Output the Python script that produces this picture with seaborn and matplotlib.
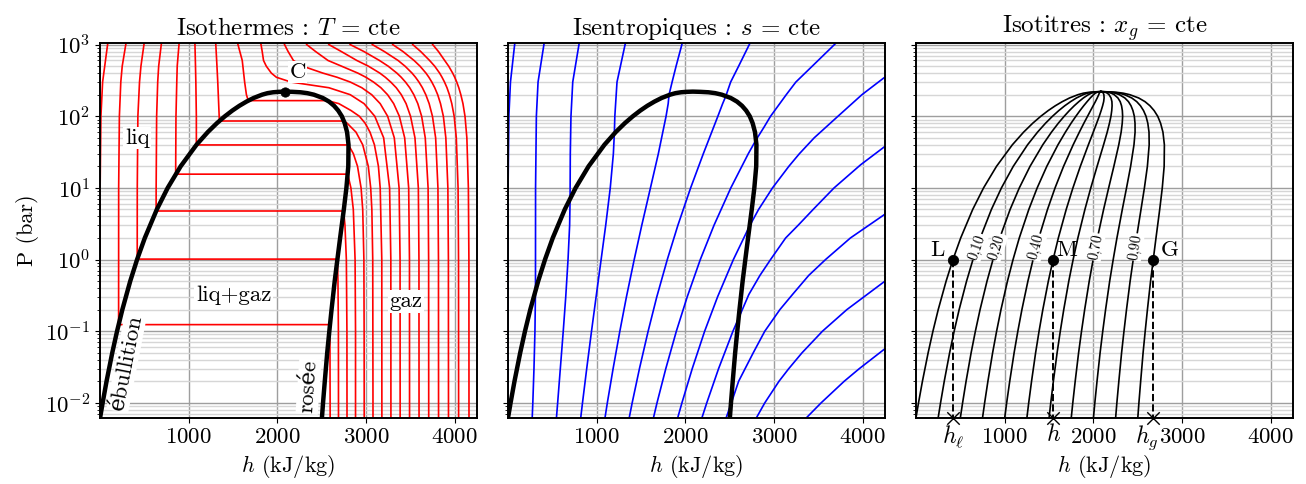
"""
Diagramme (P, h) de l'eau : isothermes, isentropiques, isotitres.
"""

import numpy as np
import pandas as pd
import matplotlib
matplotlib.use("Agg")
import matplotlib.pyplot as plt
import matplotlib.transforms as mtransforms
import seaborn as sns

# ---------------------------------------------------------------------------
# Courbe de saturation (P en bar, h en kJ/kg)
# ---------------------------------------------------------------------------
P_SAT = [0.00611, 0.01, 0.02, 0.05, 0.1, 0.2, 0.5, 1, 2, 5, 10, 20, 40, 60,
         80, 100, 120, 140, 160, 180, 200, 210, 216, 219, 220.64]
H_LIQ = [0, 29.3, 73.4, 137.8, 191.8, 251.4, 340.5, 417.5, 504.7, 640.1,
         762.6, 908.5, 1087.4, 1213.9, 1317.1, 1408.0, 1491.3, 1571.0,
         1650.5, 1732.0, 1827.1, 1888, 1950, 2010, 2084]
H_VAP = [2501, 2513.7, 2533.5, 2560.8, 2584.6, 2609.7, 2645.2, 2675.4,
         2706.2, 2748.1, 2777.1, 2798.3, 2800.8, 2784.6, 2758.0, 2725.5,
         2685.0, 2638.1, 2582.0, 2510.6, 2410.4, 2336, 2260, 2170, 2084]
P_CRIT, H_CRIT = 220.64, 2084.3

# ---------------------------------------------------------------------------
# Isothermes sous-critiques : chemin (P, h) du haut vers le bas
# ---------------------------------------------------------------------------
ISO_T_SUB = {
    0: ([1200, 1000, 300, 100, 10, 0.00611],
        [100, 85, 29, 10, 1, 0]),
    50: ([1200, 1000, 500, 300, 100, 10, 0.1235, 0.1235, 0.00611],
         [305, 290, 250, 234, 218, 210, 209.3, 2591.3, 2594]),
    100: ([1200, 1000, 500, 300, 100, 10, 1.014, 1.014, 0.5, 0.1, 0.00611],
          [508, 495, 461, 445, 426.5, 419.7, 419.1, 2675.6, 2682, 2687, 2688]),
    150: ([1200, 1000, 500, 300, 100, 10, 4.76, 4.76, 3, 1, 0.1, 0.00611],
          [700, 690, 661, 650, 638, 632.5, 632.2, 2745.9, 2761, 2776.6, 2783,
           2784]),
    200: ([1200, 1000, 500, 300, 100, 15.55, 15.55, 10, 5, 1, 0.1, 0.00611],
          [897, 890, 870, 865, 856, 852.3, 2792, 2827.9, 2855, 2875, 2880,
           2880]),
    250: ([1200, 1000, 500, 300, 100, 39.76, 39.76, 30, 20, 10, 5, 1, 0.1,
           0.00611],
          [1068, 1070, 1076, 1080, 1085.6, 1085.8, 2800.9, 2855.8, 2902.5,
           2942.6, 2961, 2974.3, 2977, 2978]),
    300: ([1200, 1000, 500, 300, 100, 85.8, 85.8, 80, 60, 40, 20, 10, 5, 1,
           0.00611],
          [1300, 1305, 1318, 1327, 1343, 1344.8, 2749, 2785, 2885, 2961, 3024,
           3051, 3064, 3074, 3077]),
    350: ([1200, 1000, 600, 300, 200, 165.2, 165.2, 150, 120, 100, 80, 60, 40,
           20, 10, 1, 0.00611],
          [1540, 1555, 1603, 1630, 1650, 1671, 2563.9, 2692, 2830, 2923, 2988,
           3043, 3093, 3138, 3158, 3176, 3177]),
}

# Isothermes supercritiques : h (kJ/kg) sur une grille de pressions commune
P_SUPER = [1200, 1000, 800, 600, 500, 400, 350, 300, 250, 200, 150, 100, 50,
           10, 1, 0.00611]
ISO_T_SUPER = {
    400: [1790, 1815, 1828, 1843, 1874, 1931, 1988, 2152, 2580, 2820, 2976,
          3097, 3197, 3264, 3278, 3279],
    450: [2060, 2080, 2120, 2180, 2285, 2512, 2672, 2821, 2951, 3062, 3158,
          3242, 3317, 3371, 3382, 3383],
    500: [2300, 2330, 2430, 2570, 2722, 2906, 2997, 3083, 3166, 3241, 3310,
          3374, 3434, 3479, 3488, 3489],
    550: [2550, 2580, 2720, 2895, 3025, 3154, 3216, 3277, 3339, 3396, 3450,
          3500, 3550, 3588, 3595, 3596],
    600: [2790, 2820, 2975, 3150, 3248, 3346, 3395, 3443, 3491, 3537, 3582,
          3625, 3666, 3698, 3704, 3705],
    650: [3040, 3070, 3205, 3360, 3438, 3517, 3556, 3595, 3634, 3672, 3710,
          3747, 3783, 3809, 3815, 3816],
    700: [3270, 3300, 3415, 3540, 3607, 3674, 3707, 3740, 3773, 3806, 3838,
          3870, 3898, 3921, 3927, 3928],
    750: [3500, 3525, 3615, 3715, 3772, 3828, 3855, 3883, 3911, 3938, 3965,
          3992, 4016, 4036, 4041, 4042],
    800: [3720, 3750, 3815, 3885, 3930, 3975, 3998, 4021, 4044, 4067, 4091,
          4114, 4135, 4152, 4158, 4159],
}

# ---------------------------------------------------------------------------
# Isentropiques s = 0 ... 11 kJ/(kg.K) : (P, h) du bas vers le haut
# ---------------------------------------------------------------------------
ISO_S = {
    0: ([0.00611, 10, 100, 300, 1000, 1200], [0, 1, 10, 28, 75, 88]),
    1: ([0.00611, 0.01, 0.03, 0.1, 0.37, 10, 100, 300, 1000, 1200],
        [273, 280, 293, 304, 310, 311, 320, 339, 405, 420]),
    2: ([0.00611, 0.01, 0.03, 0.1, 0.3, 1, 3, 7.1, 30, 100, 300, 1000, 1200],
        [546, 560, 590, 623, 651, 677, 695, 700, 702.5, 710, 730, 800, 815]),
    3: ([0.00611, 0.01, 0.03, 0.1, 0.3, 1, 3, 10, 30, 57.5, 100, 300, 1000,
         1200],
        [819.5, 840, 887.5, 941.7, 993, 1050, 1101.5, 1153, 1188, 1199,
         1204.5, 1229, 1320, 1340]),
    4: ([0.00611, 0.01, 0.03, 0.1, 0.3, 1, 3, 10, 30, 100, 150, 198, 300, 500,
         1000, 1200],
        [1093, 1120, 1185, 1261, 1335, 1423, 1508, 1606, 1695, 1782, 1806,
         1815, 1850, 1895, 1960, 1975]),
    5: ([0.00611, 0.01, 0.03, 0.1, 0.3, 1, 3, 10, 30, 100, 150, 190, 300, 500,
         1000, 1200],
        [1366, 1400, 1482, 1580, 1677, 1796, 1915, 2059, 2202, 2366, 2420,
         2455, 2510, 2600, 2720, 2750]),
    6: ([0.00611, 0.01, 0.03, 0.1, 0.3, 1, 3, 10, 30, 46.9, 70, 100, 200, 300,
         500, 1000, 1200],
        [1639, 1680, 1779, 1898, 2020, 2168, 2322, 2512, 2709, 2797, 2885,
         2960, 3137, 3245, 3430, 3680, 3740]),
    7: ([0.00611, 0.01, 0.03, 0.1, 0.3, 1, 2.95, 5, 10, 20, 30, 50, 100, 200,
         342, 600],
        [1912, 1961, 2077, 2217, 2362, 2541, 2724, 2825, 2982, 3166, 3285,
         3452, 3720, 3990, 4236, 4600]),
    8: ([0.00611, 0.01, 0.03, 0.1, 0.15, 0.325, 0.6, 1, 2, 3, 5, 10, 21, 38,
         60],
        [2185, 2241, 2374, 2536, 2598, 2715, 2840, 2960, 3130, 3270, 3440,
         3676, 3975, 4250, 4470]),
    9: ([0.00611, 0.0095, 0.02, 0.05, 0.1, 0.2, 0.325, 0.6, 1, 2, 4.3, 10],
        [2458, 2512, 2600, 2765, 2895, 3065, 3207, 3390, 3580, 3860, 4250,
         4700]),
    10: ([0.00611, 0.01, 0.02, 0.03, 0.05, 0.1, 0.2, 0.5, 1],
         [2798, 2895, 3055, 3165, 3315, 3545, 3820, 4250, 4620]),
    11: ([0.00611, 0.01, 0.02, 0.03, 0.057, 0.1],
         [3360, 3530, 3790, 3960, 4250, 4560]),
}

# ---------------------------------------------------------------------------
# Isotitres
# ---------------------------------------------------------------------------
X_TITRE = [0.0, 0.1, 0.2, 0.3, 0.4, 0.5, 0.6, 0.7, 0.8, 0.9, 1.0]
X_LABELED = [0.1, 0.2, 0.4, 0.7, 0.9]
X_LABEL_TXT = ["0,10", "0,20", "0,40", "0,70", "0,90"]
P_LABEL = 1.5          # pression ou l'on ecrit les titres
P_POINT = 1.0          # palier des points L, M, G
X_POINT = 0.5          # titre du point M

H_MIN, H_MAX = 0, 4250
P_MIN, P_MAX = 0.00611, 1050

# ---------------------------------------------------------------------------
# Mise en forme
# ---------------------------------------------------------------------------
plt.rcParams.update({
    "font.family": ["cmr10", "DejaVu Serif"],
    "mathtext.fontset": "cm",
    "axes.unicode_minus": False,
    "axes.formatter.use_mathtext": True,
    "font.size": 16.5,
    "axes.labelsize": 16,
    "axes.linewidth": 1.4,
})


def long_df(curves):
    rows = []
    for key, (P, h) in curves.items():
        for i, (p, hh) in enumerate(zip(P, h)):
            rows.append((str(key), i, p, hh))
    return pd.DataFrame(rows, columns=["curve", "i", "P", "h"])


dome = pd.DataFrame({"P": P_SAT + P_SAT[::-1], "h": H_LIQ + H_VAP[::-1]})

iso_T = dict(ISO_T_SUB)
for T, hs in ISO_T_SUPER.items():
    iso_T[T] = (P_SUPER, hs)
df_T = long_df(iso_T)
df_S = long_df(ISO_S)

P_arr = np.array(P_SAT)
hl_arr = np.array(H_LIQ)
hg_arr = np.array(H_VAP)
iso_x = {x: (P_SAT, list(hl_arr + x * (hg_arr - hl_arr))) for x in X_TITRE}
df_X = long_df(iso_x)

fig, axes = plt.subplots(1, 3, figsize=(13.06, 4.84), dpi=100, sharey=True)
fig.subplots_adjust(left=0.0766, right=0.990, bottom=0.136, top=0.911,
                    wspace=0.082)

titles = [r"Isothermes : $T$ = cte",
          r"Isentropiques : $s$ = cte",
          r"Isotitres : $x_g$ = cte"]

for ax, title in zip(axes, titles):
    ax.set_yscale("log")
    ax.set_xlim(H_MIN, H_MAX)
    ax.set_ylim(P_MIN, P_MAX)
    ax.set_xticks([1000, 2000, 3000, 4000])
    ax.grid(which="major", color="0.62", lw=1.0)
    ax.grid(which="minor", axis="y", color="0.84", lw=1.0)
    ax.set_axisbelow(True)
    ax.set_title(title, fontsize=18)

# --- Panneau 1 : isothermes -------------------------------------------------
ax = axes[0]
sns.lineplot(data=df_T, x="h", y="P", units="curve", estimator=None,
             sort=False, color="red", lw=1.2, ax=ax, legend=False)
sns.lineplot(data=dome, x="h", y="P", estimator=None, sort=False,
             color="black", lw=3.2, ax=ax)
sns.scatterplot(x=[H_CRIT], y=[P_CRIT], color="black", s=45, zorder=5,
                ax=ax, edgecolor="black")
box = dict(facecolor="white", edgecolor="none", pad=1.0)
ax.annotate("C", (H_CRIT, P_CRIT), xytext=(9, 14), textcoords="offset points",
            ha="center", va="center", bbox=box)
ax.text(418, 50, "liq", ha="center", va="center", bbox=box)
ax.text(1505, 0.32, "liq+gaz", ha="center", va="center", bbox=box)
ax.text(3450, 0.26, "gaz", ha="center", va="center", bbox=box)
ax.text(300, 0.037, "ébullition", ha="center", va="center", rotation=79,
        bbox=box)
ax.text(2350, 0.017, "rosée", ha="center", va="center", rotation=86,
        bbox=box)
ax.set_xlabel(r"$h$ (kJ/kg)")
ax.set_ylabel("P (bar)")

# --- Panneau 2 : isentropiques ----------------------------------------------
ax = axes[1]
sns.lineplot(data=df_S, x="h", y="P", units="curve", estimator=None,
             sort=False, color="blue", lw=1.2, ax=ax, legend=False)
sns.lineplot(data=dome, x="h", y="P", estimator=None, sort=False,
             color="black", lw=3.2, ax=ax)
ax.set_xlabel(r"$h$ (kJ/kg)")
ax.set_ylabel("")

# --- Panneau 3 : isotitres --------------------------------------------------
ax = axes[2]
sns.lineplot(data=df_X, x="h", y="P", units="curve", estimator=None,
             sort=False, color="black", lw=1.2, ax=ax, legend=False)
ax.set_xlabel(r"$h$ (kJ/kg)")
ax.set_ylabel("")

logP = np.log10(P_arr)
hl_pt = np.interp(np.log10(P_POINT), logP, hl_arr)
hg_pt = np.interp(np.log10(P_POINT), logP, hg_arr)
hm_pt = hl_pt + X_POINT * (hg_pt - hl_pt)
pts_h = [hl_pt, hm_pt, hg_pt]

for hh in pts_h:
    ax.plot([hh, hh], [P_POINT, P_MIN], ls="--", color="black", lw=1.4)
sns.scatterplot(x=pts_h, y=[P_POINT] * 3, color="black", s=55, zorder=5,
                ax=ax, edgecolor="black")
ax.scatter(pts_h, [P_MIN] * 3, marker="x", color="black", s=80, lw=1.0,
           zorder=6, clip_on=False)
for name, hh, dx in zip(["L", "M", "G"], pts_h, [-11, 10, 12]):
    ax.annotate(name, (hh, P_POINT), xytext=(dx, 7), textcoords="offset points",
                ha="center", va="center", fontsize=16.5)

# etiquettes h_l, h, h_g sous l'axe
below = mtransforms.blended_transform_factory(ax.transData, ax.transAxes)
for txt, hh, ha, dx in zip([r"$h_\ell$", r"$h$", r"$h_g$"], pts_h,
                           ["center", "center", "right"], [0, 0, 4]):
    ax.annotate(txt, (hh, 0), xycoords=below, xytext=(dx, -4),
                textcoords="offset points", ha=ha, va="top", fontsize=17,
                annotation_clip=False)

fig.canvas.draw()
lp = np.log10(P_LABEL)
for x, txt in zip(X_LABELED, X_LABEL_TXT):
    h1 = np.interp(lp, logP, hl_arr + x * (hg_arr - hl_arr))
    h2 = np.interp(lp + 0.15, logP, hl_arr + x * (hg_arr - hl_arr))
    p1 = ax.transData.transform((h1, P_LABEL))
    p2 = ax.transData.transform((h2, 10 ** (lp + 0.15)))
    ang = np.degrees(np.arctan2(p2[1] - p1[1], p2[0] - p1[0]))
    ax.text(h1, P_LABEL, txt, rotation=ang, ha="center", va="center",
            fontsize=10.5, rotation_mode="anchor",
            bbox=dict(facecolor="white", edgecolor="none", pad=0.5))

fig.savefig("out.png", dpi=100)
